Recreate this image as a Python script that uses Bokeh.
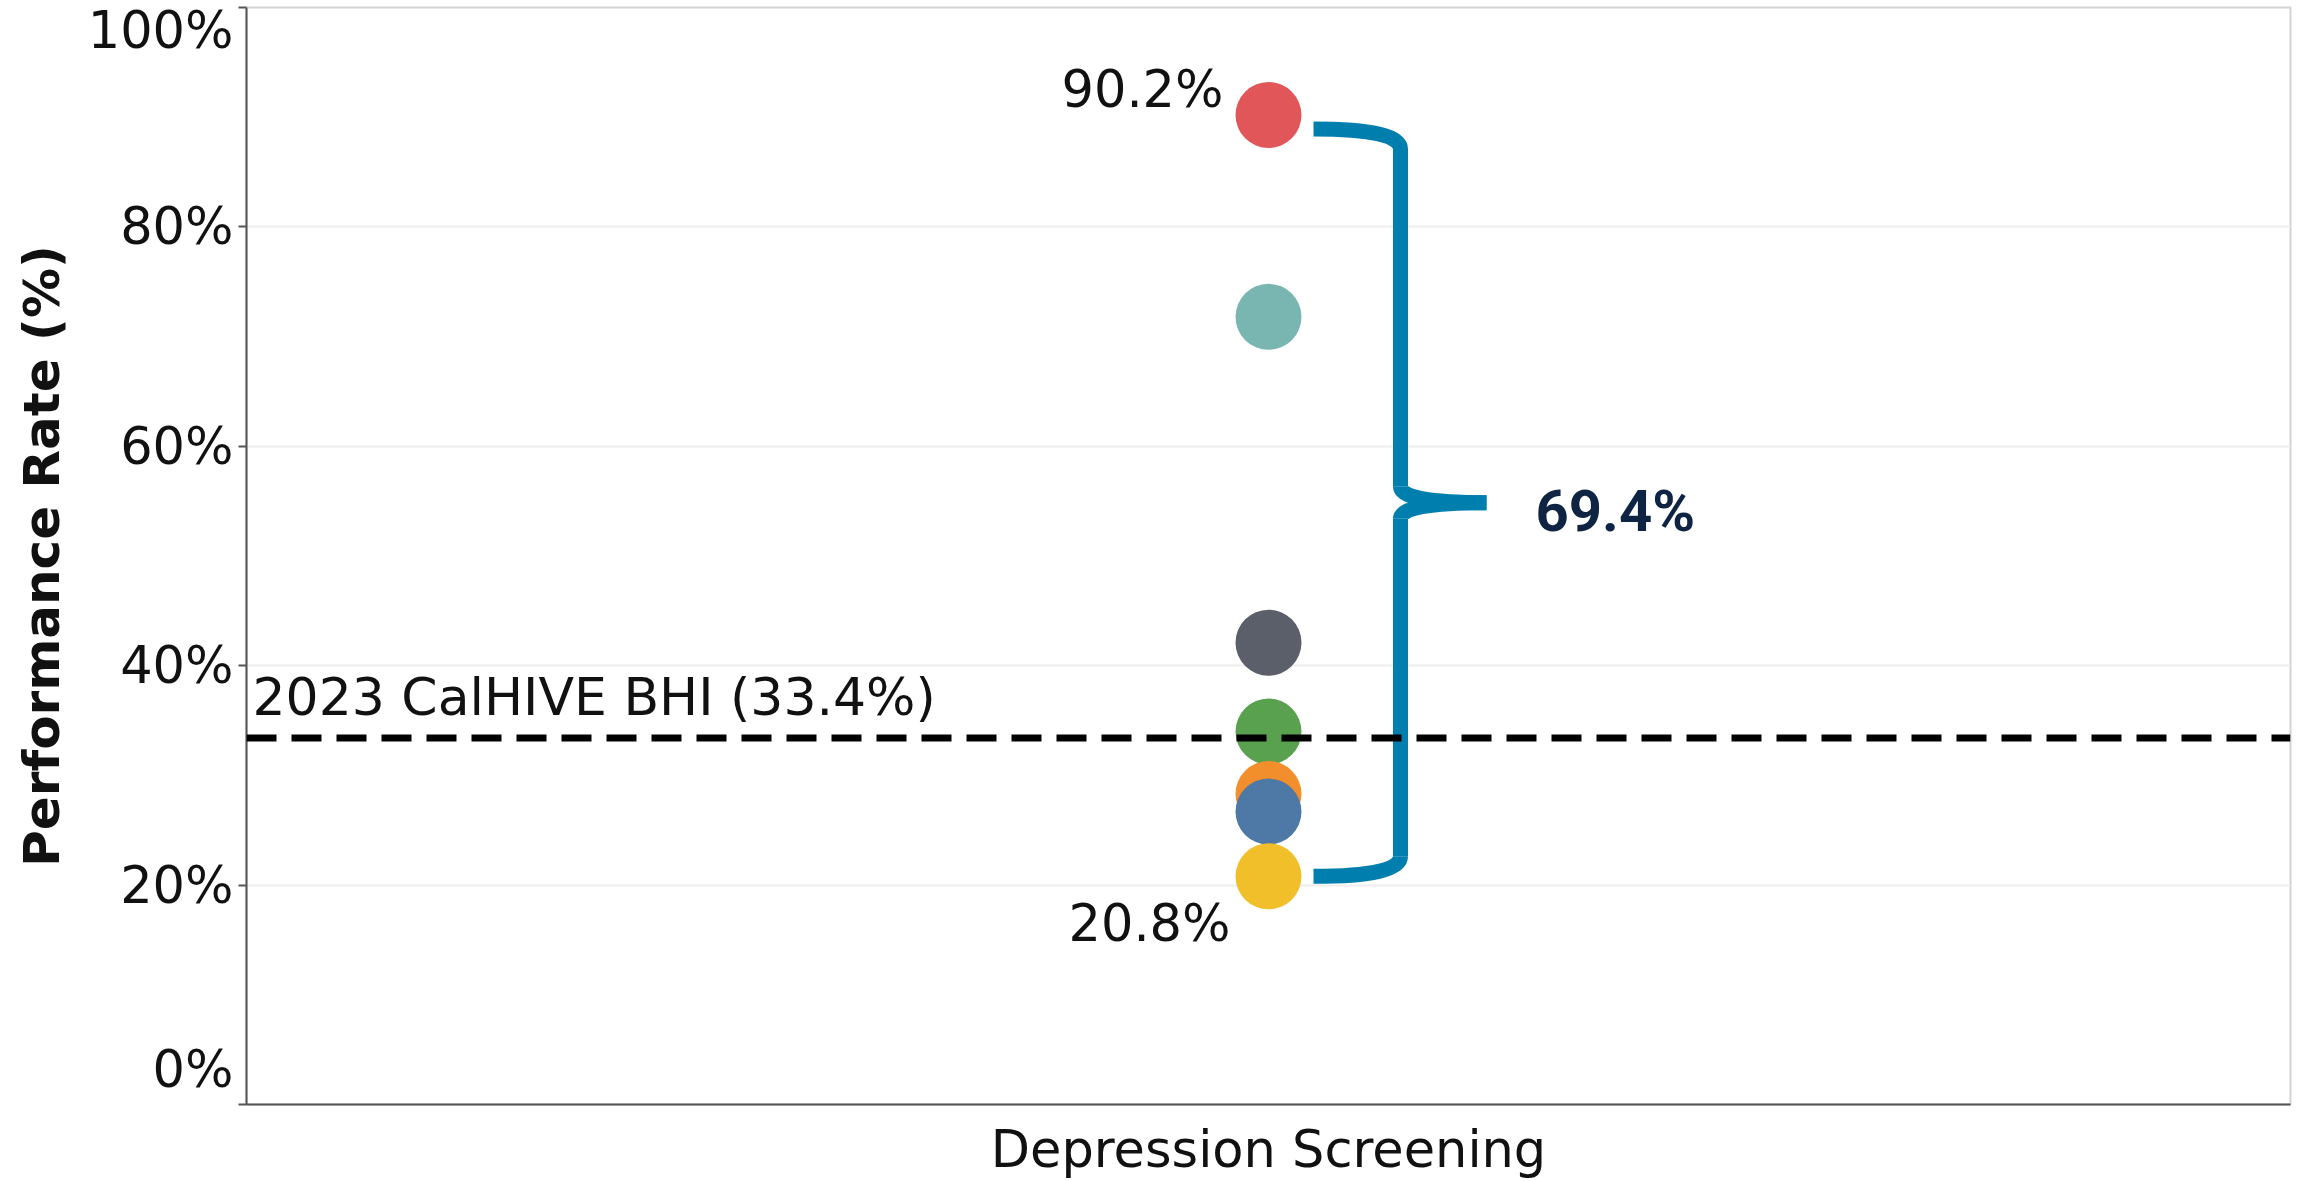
from bokeh.plotting import figure
from bokeh.models import Range1d, FixedTicker, Span, ColumnDataSource
from bokeh.core.properties import value
from bokeh.embed import file_html
from bokeh.resources import INLINE

# ---------------- data ----------------
category = "Depression Screening"
groups = ["G1", "G2", "G3", "G4", "G5", "G6", "G7"]
rates = [90.2, 71.8, 42.1, 34.0, 28.3, 26.7, 20.8]
colors = ["#e15759", "#79b6b1", "#5b5f69", "#59a14f", "#f28e2b", "#4e79a7", "#f0bf2a"]
benchmark = 33.4
benchmark_label = "2023 CalHIVE BHI (33.4%)"
y_ticks = [0, 20, 40, 60, 80, 100]
y_tick_labels = ["0%", "20%", "40%", "60%", "80%", "100%"]
y_title = "Performance Rate (%)"

FONT = "DejaVu Sans"
W, H = 2300, 1181
BL, BR, BT, BB = 246, 10, 7, 77
FW = W - BL - BR
FH = H - BT - BB
px_x = 1.0 / FW          # data units per px (x)
px_y = 100.0 / FH        # data units per px (y)
xc = 0.5                 # category position

p = figure(width=W, height=H, output_backend="svg", toolbar_location=None,
           x_range=Range1d(0, 1), y_range=Range1d(0, 100),
           min_border_left=BL, min_border_right=BR, min_border_top=BT,
           min_border_bottom=BB, background_fill_color="white",
           border_fill_color="white")
p.outline_line_color = "#d4d4d4"
p.outline_line_width = 2

# grid
p.xgrid.visible = False
p.ygrid.ticker = FixedTicker(ticks=y_ticks)
p.ygrid.grid_line_color = "#eeeeee"
p.ygrid.grid_line_width = 2

# y axis
ya = p.yaxis[0]
ya.ticker = FixedTicker(ticks=y_ticks)
ov = {t: l for t, l in zip(y_ticks, y_tick_labels)}
ov[y_ticks[0]] = y_tick_labels[0] + "\n"
ya.major_label_overrides = ov
ya.major_label_text_font = FONT
ya.major_label_text_font_size = "51px"
ya.major_label_text_color = "#111111"
ya.major_label_standoff = 5
ya.major_tick_out = 8
ya.major_tick_in = 0
ya.minor_tick_out = 0
ya.minor_tick_in = 0
ya.major_tick_line_color = "#555555"
ya.major_tick_line_width = 2
ya.axis_line_color = "#555555"
ya.axis_line_width = 2
ya.axis_label = y_title
ya.axis_label_text_font = FONT
ya.axis_label_text_font_style = "bold"
ya.axis_label_text_font_size = "50px"
ya.axis_label_text_color = "#111111"
ya.axis_label_standoff = 14

# x axis
xa = p.xaxis[0]
xa.ticker = FixedTicker(ticks=[xc])
xa.major_label_overrides = {xc: category}
xa.major_label_text_font = FONT
xa.major_label_text_font_size = "51px"
xa.major_label_text_color = "#111111"
xa.major_label_standoff = 15
xa.major_tick_out = 0
xa.major_tick_in = 0
xa.minor_tick_out = 0
xa.minor_tick_in = 0
xa.axis_line_color = "#555555"
xa.axis_line_width = 2

# benchmark line
p.add_layout(Span(location=benchmark, dimension="width", line_color="black",
                  line_width=7, line_dash="30 15"))
p.text(x=[0], y=[benchmark], text=[benchmark_label], x_offset=6, y_offset=-41,
       text_font=value(FONT), text_font_size="52px", text_color="#111111",
       text_align="left", text_baseline="middle")

# bracket (derived from max/min)
hi, lo = max(rates), min(rates)
top = hi - 14 * px_y
bot = lo
mid = (top + bot) / 2
xa0 = xc + 45 * px_x
xv = xc + 132 * px_x
xt = xc + 218 * px_x
blue = "#007fae"
lw = 15
p.quadratic(x0=[xa0], y0=[top], x1=[xv], y1=[top - 20 * px_y], cx=[xv], cy=[top],
            line_color=blue, line_width=lw)
p.segment(x0=[xv, xv], y0=[top - 20 * px_y, mid - 16 * px_y],
          x1=[xv, xv], y1=[mid + 16 * px_y, bot + 20 * px_y],
          line_color=blue, line_width=lw)
p.quadratic(x0=[xv, xv], y0=[mid + 16 * px_y, mid - 16 * px_y], x1=[xt, xt], y1=[mid, mid],
            cx=[xv, xv], cy=[mid, mid], line_color=blue, line_width=lw)
p.quadratic(x0=[xv], y0=[bot + 20 * px_y], x1=[xa0], y1=[bot], cx=[xv], cy=[bot],
            line_color=blue, line_width=lw)
spread = round(hi - lo, 1)
p.text(x=[xc], y=[mid], text=[f"{spread}%"], x_offset=267, y_offset=8,
       text_font=value("Roboto"), text_font_style="bold", text_font_size="58px",
       text_color="#0f2342", text_align="left", text_baseline="middle")

# points
src = ColumnDataSource(dict(x=[xc] * len(rates), y=rates, c=colors, g=groups))
p.scatter(x="x", y="y", source=src, size=66, fill_color="c", line_color=None,
          marker="circle")

# max / min labels
p.text(x=[xc], y=[hi], text=[f"{hi}%"], x_offset=-45, y_offset=-26,
       text_font=value(FONT), text_font_size="51px", text_color="#111111",
       text_align="right", text_baseline="middle")
p.text(x=[xc], y=[lo], text=[f"{lo}%"], x_offset=-38, y_offset=47,
       text_font=value(FONT), text_font_size="51px", text_color="#111111",
       text_align="right", text_baseline="middle")

open("out.html", "w").write(file_html(p, INLINE))
